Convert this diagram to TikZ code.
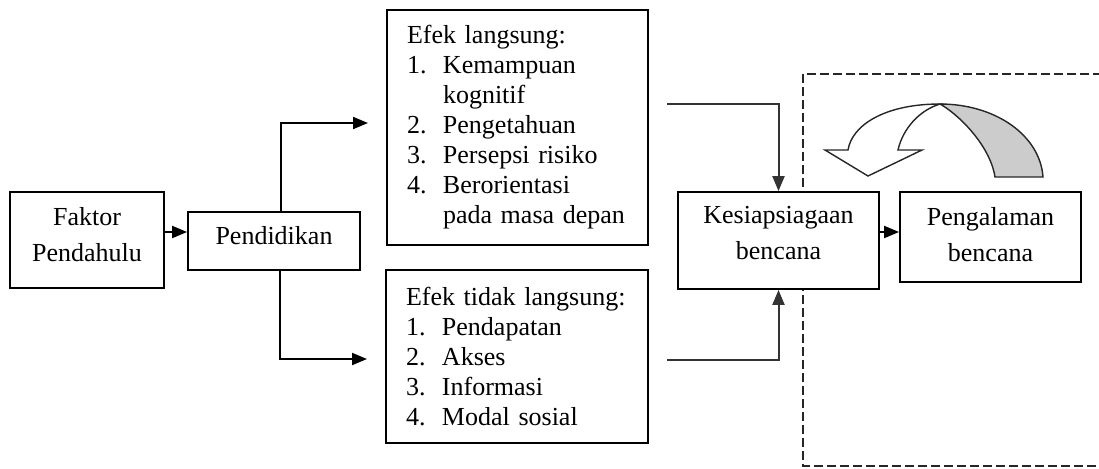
\documentclass[tikz,border=0pt]{standalone}
\usepackage{fontspec}
\setmainfont{Liberation Serif}
\usetikzlibrary{arrows.meta}
\newcommand\myitem[1]{\makebox[18pt][l]{#1}}
\newcommand\myindent{\hspace*{18pt}}
\newcommand\mydep[1]{\rule[-#1]{0pt}{#1}}
\begin{document}
\begin{tikzpicture}[x=0.5pt,y=-0.5pt,
  box/.style={draw, line width=0.9pt, fill=white, inner sep=0pt, align=center,
    font=\fontsize{13}{18}\selectfont},
  listbox/.style={draw, line width=0.9pt, fill=white, inner xsep=10pt, inner ysep=0pt,
    align=left, text width=#1, font=\fontsize{13}{15}\selectfont},
  arr/.style={line width=1pt, -{Triangle[length=7.5pt,width=6pt]}},
  feed/.style={arr, draw=black!80},
  dashbox/.style={line width=1pt, draw=black!85, dash pattern=on 4.5pt off 2pt},
  curv/.style={line width=0.7pt, draw=black!85}
]
\useasboundingbox (0,0) rectangle (1099,468);

% dashed frame (open to the right)
\begin{scope}
\clip (0,0) rectangle (1099,468);
\draw[dashbox] (1115,74) -- (803,74) -- (803,466) -- (1115,466);
\end{scope}

% boxes
\node[box, minimum width=77pt, minimum height=48pt] (fak) at (87,240)
  {Faktor\\Pendahulu\mydep{5.5pt}};
\node[box, minimum width=86pt, minimum height=29pt] (pend) at (274,241)
  {Pendidikan\mydep{6pt}};
\node[listbox=110.5pt, minimum height=117.5pt] (el) at (517.5,127.5)
  {Efek langsung:\\
   \myitem{1.}Kemampuan\\
   \myindent kognitif\\
   \myitem{2.}Pengetahuan\\
   \myitem{3.}Persepsi risiko\\
   \myitem{4.}Berorientasi\\
   \myindent pada masa depan};
\node[listbox=111pt, minimum height=86.5pt] (etl) at (517,356.5)
  {Efek tidak langsung:\\
   \myitem{1.}Pendapatan\\
   \myitem{2.}Akses\\
   \myitem{3.}Informasi\\
   \myitem{4.}Modal sosial};
\node[box, minimum width=100.5pt, minimum height=48.5pt] (kes) at (778.5,240.5)
  {Kesiapsiagaan\\bencana\mydep{7.5pt}};
\node[box, minimum width=90.5pt, minimum height=45pt] (pen) at (990.5,237)
  {Pengalaman\\bencana\mydep{3pt}};

% helper coordinates
\coordinate (y232) at (0,232);
\coordinate (p1) at (368,123);
\coordinate (p2) at (367,359);
\coordinate (q1) at (667,104);
\coordinate (q2) at (667,360);

% connectors
\draw[arr] (fak.east |- y232) -- (pend.west |- y232);
\draw[arr] ([xshift=3.5pt]pend.north) |- (p1);
\draw[arr] ([xshift=3pt]pend.south) |- (p2);
\draw[feed] (q1) -| (kes.north);
\draw[feed] (q2) -| (kes.south);
\draw[arr] (kes.east |- y232) -- (pen.west |- y232);

% curved block arrow
\draw[curv, fill=white] (848,150) .. controls (852,125) and (885,104) .. (940,104)
  .. controls (920,110) and (903,128) .. (898,150)
  -- (922,150) -- (868,176) -- (825,150) -- cycle;
\draw[curv, fill=black!20] (940,104) .. controls (995,104) and (1040,135) .. (1043,177)
  -- (995,177) .. controls (990,145) and (958,114) .. (940,104) -- cycle;
\end{tikzpicture}
\end{document}
